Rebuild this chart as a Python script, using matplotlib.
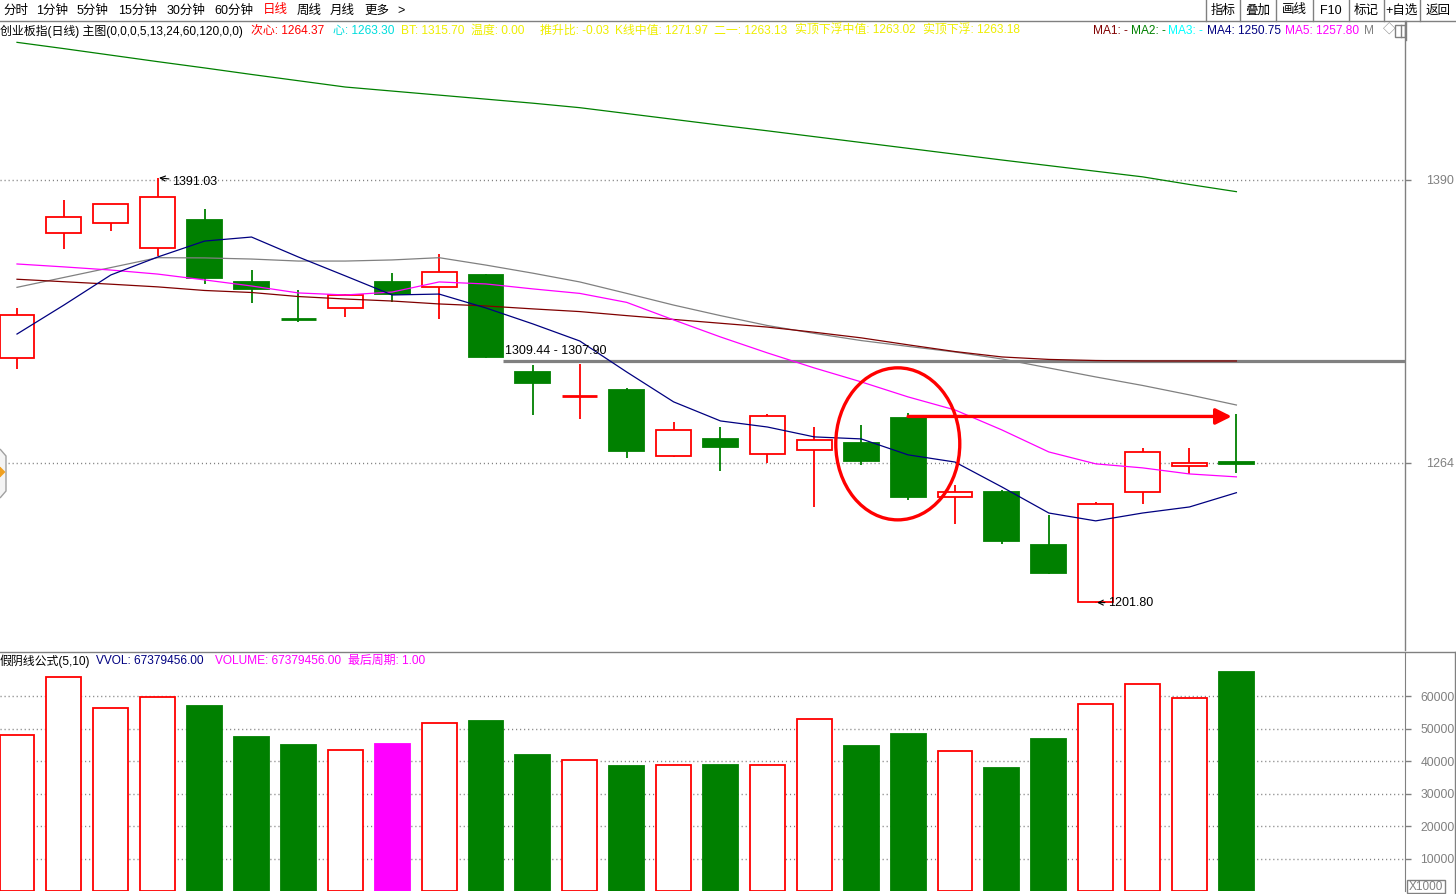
import matplotlib
matplotlib.use('Agg')
import matplotlib.pyplot as plt
from matplotlib.patches import Rectangle, Ellipse, Polygon
from matplotlib.lines import Line2D

plt.rcParams['font.family'] = ['Liberation Sans', 'Noto Sans CJK SC', 'DejaVu Sans']

# ---------------- data ----------------
opens = [1310.6, 1366.3, 1370.7, 1359.6, 1372.2, 1344.6, 1328.4, 1332.9, 1344.6, 1342.2,
         1347.7, 1304.5, 1293.6, 1296.5, 1267.3, 1274.7, 1267.9, 1269.7, 1272.9, 1284.0,
         1248.7, 1251.1, 1227.5, 1202.0, 1251.0, 1262.5, 1264.6]
highs = [1333.1, 1381.1, 1379.3, 1391.03, 1376.9, 1349.9, 1341.0, 1339.2, 1348.6, 1356.9,
         1348.0, 1307.6, 1308.1, 1297.3, 1282.3, 1279.9, 1285.8, 1279.9, 1280.8, 1286.3,
         1254.1, 1252.0, 1240.8, 1246.5, 1270.5, 1270.5, 1285.8]
lows = [1305.7, 1359.1, 1367.4, 1356.2, 1343.6, 1335.4, 1326.9, 1329.1, 1335.8, 1328.0,
        1310.7, 1285.5, 1283.7, 1266.4, 1266.8, 1260.6, 1264.1, 1244.5, 1263.2, 1247.7,
        1237.0, 1227.8, 1214.7, 1201.8, 1245.6, 1259.1, 1259.4]
closes = [1329.9, 1373.4, 1379.3, 1382.3, 1346.5, 1341.6, 1327.8, 1338.8, 1339.4, 1348.9,
          1311.3, 1299.7, 1293.9, 1269.5, 1278.7, 1271.3, 1284.8, 1274.1, 1265.0, 1249.0,
          1251.0, 1229.4, 1215.2, 1245.6, 1268.8, 1263.9, 1263.4]

# volume in thousands (axis shows X1000)
volume = [48000, 65800, 56300, 59700, 56900, 47400, 44900, 43400, 45200, 51700,
          52300, 41800, 40300, 38500, 38800, 38800, 38800, 52900, 44600, 48300,
          43100, 37800, 46800, 57500, 63700, 59400, 67379]

ma_navy = [1321.4, 1334.3, 1347.7, 1355.7, 1362.8, 1364.6, 1355.7, 1347.3, 1338.8, 1339.2,
           1333.0, 1325.9, 1318.3, 1304.5, 1291.2, 1282.7, 1280.0, 1275.6, 1274.7, 1267.6,
           1264.4, 1253.3, 1241.7, 1238.2, 1241.7, 1244.4, 1250.75]
ma_magenta = [1352.6, 1351.3, 1349.9, 1348.1, 1345.5, 1342.8, 1339.7, 1338.8, 1340.1, 1344.6,
              1343.7, 1341.5, 1339.5, 1335.5, 1327.7, 1320.1, 1313.0, 1306.3, 1300.1, 1293.4,
              1287.6, 1278.7, 1268.9, 1263.6, 1261.8, 1259.1, 1257.8]
ma_gray = [1342.2, 1346.6, 1351.0, 1355.4, 1355.3, 1354.8, 1353.9, 1353.9, 1354.4, 1355.4,
           1352.1, 1348.5, 1344.6, 1339.5, 1334.3, 1329.6, 1325.2, 1321.7, 1318.5, 1315.9,
           1313.4, 1310.3, 1306.3, 1302.3, 1298.5, 1294.3, 1289.8]
ma_brown = [1345.8, 1344.7, 1343.6, 1342.4, 1340.8, 1339.9, 1338.1, 1337.0, 1336.1, 1334.8,
            1333.9, 1332.6, 1331.4, 1329.6, 1327.9, 1326.2, 1324.5, 1322.2, 1319.7, 1316.6,
            1313.6, 1311.2, 1310.1, 1309.6, 1309.4, 1309.4, 1309.4]
ma_green = [1451.3, 1448.5, 1445.6, 1442.7, 1439.9, 1437.0, 1434.2, 1431.4, 1429.6, 1427.8,
            1426.0, 1424.2, 1422.2, 1419.6, 1417.0, 1414.4, 1411.9, 1409.3, 1406.7, 1404.1,
            1401.5, 1398.9, 1396.4, 1393.9, 1391.4, 1388.0, 1384.8]

price_ticks = [1264, 1390]
vol_ticks = [10000, 20000, 30000, 40000, 50000, 60000]

hline_level = 1309.44
hline_label = "1309.44 - 1307.90"
hline_start = 10.36
arrow_from, arrow_to, arrow_level = 19.0, 25.9, 1284.7
ellipse_center = (18.78, 1272.5)
ellipse_size = (2.644, 67.7)

toolbar_labels = ["分时", "1分钟", "5分钟", "15分钟", "30分钟", "60分钟", "日线", "周线", "月线", "更多", ">"]
button_labels = ["指标", "叠加", "画线", "F10", "标记", "+自选", "返回"]

info_segments = [
    ("创业板指(日线) 主图(0,0,0,5,13,24,60,120,0,0)", '#000000'),
    ("次心: 1264.37", '#FF0000'),
    ("心: 1263.30", '#00DDDD'),
    ("BT: 1315.70", '#EEEE00'),
    ("温度: 0.00", '#EEEE00'),
    ("推升比: -0.03", '#EEEE00'),
    ("K线中值: 1271.97", '#EEEE00'),
    ("二一: 1263.13", '#EEEE00'),
    ("实顶下浮中值: 1263.02", '#EEEE00'),
    ("实顶下浮: 1263.18", '#EEEE00'),
    ("MA1: -", '#800000'),
    ("MA2: -", '#008000'),
    ("MA3: -", '#00FFFF'),
    ("MA4: 1250.75", '#000080'),
    ("MA5: 1257.80", '#FF00FF'),
    ("M", '#808080'),
]
vol_segments = [
    ("假阴线公式(5,10)", '#000000'),
    ("VVOL: 67379456.00", '#000080'),
    ("VOLUME: 67379456.00", '#FF00FF'),
    ("最后周期: 1.00", '#FF00FF'),
]

# ---------------- layout ----------------
W, H = 1456, 894
fig = plt.figure(figsize=(W / 100, H / 100), dpi=100)
fig.patch.set_facecolor('white')

RED = '#FF0000'
GREEN = '#008000'
MAG = '#FF00FF'
GRAY = '#808080'


def add_px_axes(x0, y0, x1, y1):
    return fig.add_axes([x0 / W, 1 - y1 / H, (x1 - x0) / W, (y1 - y0) / H])


def ptext(x, y, s, color='black', size=9, ha='left', va='center', **kw):
    fig.text(x / W, 1 - y / H, s, color=color, fontsize=size, ha=ha, va=va, **kw)


def fline(xs, ys, color=GRAY, lw=1.0):
    fig.add_artist(Line2D([x / W for x in xs], [1 - y / H for y in ys],
                          transform=fig.transFigure, color=color, lw=lw))


XLIM = (-0.3625, 29.595)
n = len(closes)
xs = list(range(n))
BW = 0.746

# main price axes
ax = add_px_axes(0, 21, 1405, 650)
ax.set_xlim(*XLIM)
ax.set_ylim(1180.7, 1460.8)
ax.set_facecolor('white')
for s in ['top', 'left', 'bottom']:
    ax.spines[s].set_visible(False)
ax.spines['right'].set_color(GRAY)
ax.spines['right'].set_linewidth(1.0)
ax.set_xticks([])
ax.yaxis.tick_right()
ax.set_yticks(price_ticks)
ax.set_yticklabels([str(t) for t in price_ticks])
ax.tick_params(axis='y', direction='out', length=4, width=1, colors=GRAY,
               labelcolor=GRAY, labelsize=9, pad=11)
for t in price_ticks:
    ax.axhline(t, color=GRAY, lw=1.0, linestyle=(0, (0.8, 2.1)), zorder=1)

# user drawn horizontal line
ax.hlines(hline_level, hline_start, XLIM[1], color=GRAY, lw=2.3, zorder=1.5)
ax.annotate(hline_label, xy=(hline_start, hline_level), xytext=(2, 4),
            textcoords='offset pixels', fontsize=9, va='bottom', ha='left', color='black', zorder=5)

# candles
for i in xs:
    o, h, l, c = opens[i], highs[i], lows[i], closes[i]
    up = c >= o
    col = RED if up else GREEN
    ax.vlines(i, l, h, color=col, lw=1.3, zorder=2)
    if abs(c - o) < 1.0:
        ax.hlines((o + c) / 2, i - BW / 2, i + BW / 2, color=col, lw=2.0, zorder=3)
    else:
        ax.add_patch(Rectangle((i - BW / 2, min(o, c)), BW, abs(c - o),
                               facecolor='white' if up else col, edgecolor=col,
                               lw=1.3, zorder=3))

# moving averages
ax.plot(xs, ma_green, color=GREEN, lw=0.9, zorder=4)
ax.plot(xs, ma_gray, color=GRAY, lw=0.9, zorder=4)
ax.plot(xs, ma_brown, color='#800000', lw=0.9, zorder=4)
ax.plot(xs, ma_magenta, color=MAG, lw=0.9, zorder=4)
ax.plot(xs, ma_navy, color='#000080', lw=0.9, zorder=4)

# extreme annotations
imax = highs.index(max(highs))
imin = lows.index(min(lows))
ax.annotate(f"{highs[imax]:.2f}", xy=(imax, highs[imax]), xytext=(14, -4),
            textcoords='offset pixels', fontsize=9, va='center', ha='left',
            arrowprops=dict(arrowstyle='->', color='black', lw=0.8, shrinkA=0, shrinkB=1), zorder=5)
ax.annotate(f"{lows[imin]:.2f}", xy=(imin, lows[imin]), xytext=(12, 0),
            textcoords='offset pixels', fontsize=9, va='center', ha='left',
            arrowprops=dict(arrowstyle='->', color='black', lw=0.8, shrinkA=0, shrinkB=1), zorder=5)

# red markup
ax.add_patch(Ellipse(ellipse_center, ellipse_size[0], ellipse_size[1], fill=False,
                     edgecolor=RED, lw=2.4, zorder=6))
ax.annotate('', xy=(arrow_to, arrow_level), xytext=(arrow_from, arrow_level),
            arrowprops=dict(arrowstyle='-|>', color=RED, lw=2.4, mutation_scale=24,
                            shrinkA=0, shrinkB=0), zorder=6)

# volume axes
ax2 = add_px_axes(0, 652, 1405, 891)
ax2.set_xlim(*XLIM)
ax2.set_ylim(0, 73540)
for s in ['top', 'left', 'bottom']:
    ax2.spines[s].set_visible(False)
ax2.spines['right'].set_color(GRAY)
ax2.set_xticks([])
ax2.yaxis.tick_right()
ax2.set_yticks(vol_ticks)
ax2.set_yticklabels([str(t) for t in vol_ticks])
ax2.tick_params(axis='y', direction='out', length=4, width=1, colors=GRAY,
                labelcolor=GRAY, labelsize=8.7, pad=7)
for t in vol_ticks:
    ax2.axhline(t, color=GRAY, lw=1.0, linestyle=(0, (0.8, 2.1)), zorder=0.5)

for i in xs:
    up = closes[i] >= opens[i]
    fake = (not up) and i > 0 and closes[i] > closes[i - 1]
    if up:
        fc, ec = 'white', RED
    elif fake:
        fc, ec = MAG, MAG
    else:
        fc, ec = GREEN, GREEN
    ax2.bar(i, volume[i], width=BW, facecolor=fc, edgecolor=ec, lw=1.3, zorder=2)

# ---------------- frame decorations ----------------
fline([0, W], [21, 21])
fline([0, W], [651.5, 651.5])
fline([1405.5, 1405.5], [21, 40])
fline([1455, 1455], [651.5, 894])
for sx in [1206, 1240, 1276, 1313, 1349, 1384, 1420]:
    fline([sx, sx], [0, 21])

# X1000 box
fig.add_artist(Rectangle((1407 / W, 1 - 893 / H), 38 / W, 13 / H, transform=fig.transFigure,
                         fill=False, edgecolor=GRAY, lw=1.0))
ptext(1426, 886.5, "X1000", color=GRAY, size=8.5, ha='center')

# left pointer marker
hexpts = [(0, 449), (6, 456), (6, 491), (0, 498)]
fig.add_artist(Polygon([(x / W, 1 - y / H) for x, y in hexpts], closed=False,
                       transform=fig.transFigure, facecolor='#F4F4F4', edgecolor='#A0A0A0', lw=1.0))
tri = [(0, 467), (5, 472), (0, 477)]
fig.add_artist(Polygon([(x / W, 1 - y / H) for x, y in tri], closed=True,
                       transform=fig.transFigure, facecolor='#F0A020', edgecolor='#F0A020', lw=0.5))

# toolbar
toolbar_x = [3, 36, 77, 118, 167, 214, 263, 297, 330, 364, 397]
for lab, x in zip(toolbar_labels, toolbar_x):
    ptext(x, 10.5, lab, color=RED if lab == "日线" else 'black', size=9)
button_x = [1223, 1258, 1294.5, 1331, 1366.5, 1402, 1438]
for lab, x in zip(button_labels, button_x):
    ptext(x, 10.5, lab, size=9, ha='center')

# info row
info_x = [0, 251, 333, 401, 471, 540, 615, 714, 795, 923, 1093, 1131, 1168, 1207, 1285, 1364]
for (s, col), x in zip(info_segments, info_x):
    ptext(x, 31, s, color=col, size=8.6)
ptext(1383, 31, "◇", color=GRAY, size=9)
fig.add_artist(Rectangle((1395 / W, 1 - 37 / H), 10 / W, 12 / H, transform=fig.transFigure,
                         fill=False, edgecolor=GRAY, lw=1.0))
fline([1401, 1401], [25, 37])

# volume title row
vol_x = [0, 96, 215, 348]
for (s, col), x in zip(vol_segments, vol_x):
    ptext(x, 661, s, color=col, size=8.6)

fig.savefig('out.png', dpi=100, facecolor='white')
